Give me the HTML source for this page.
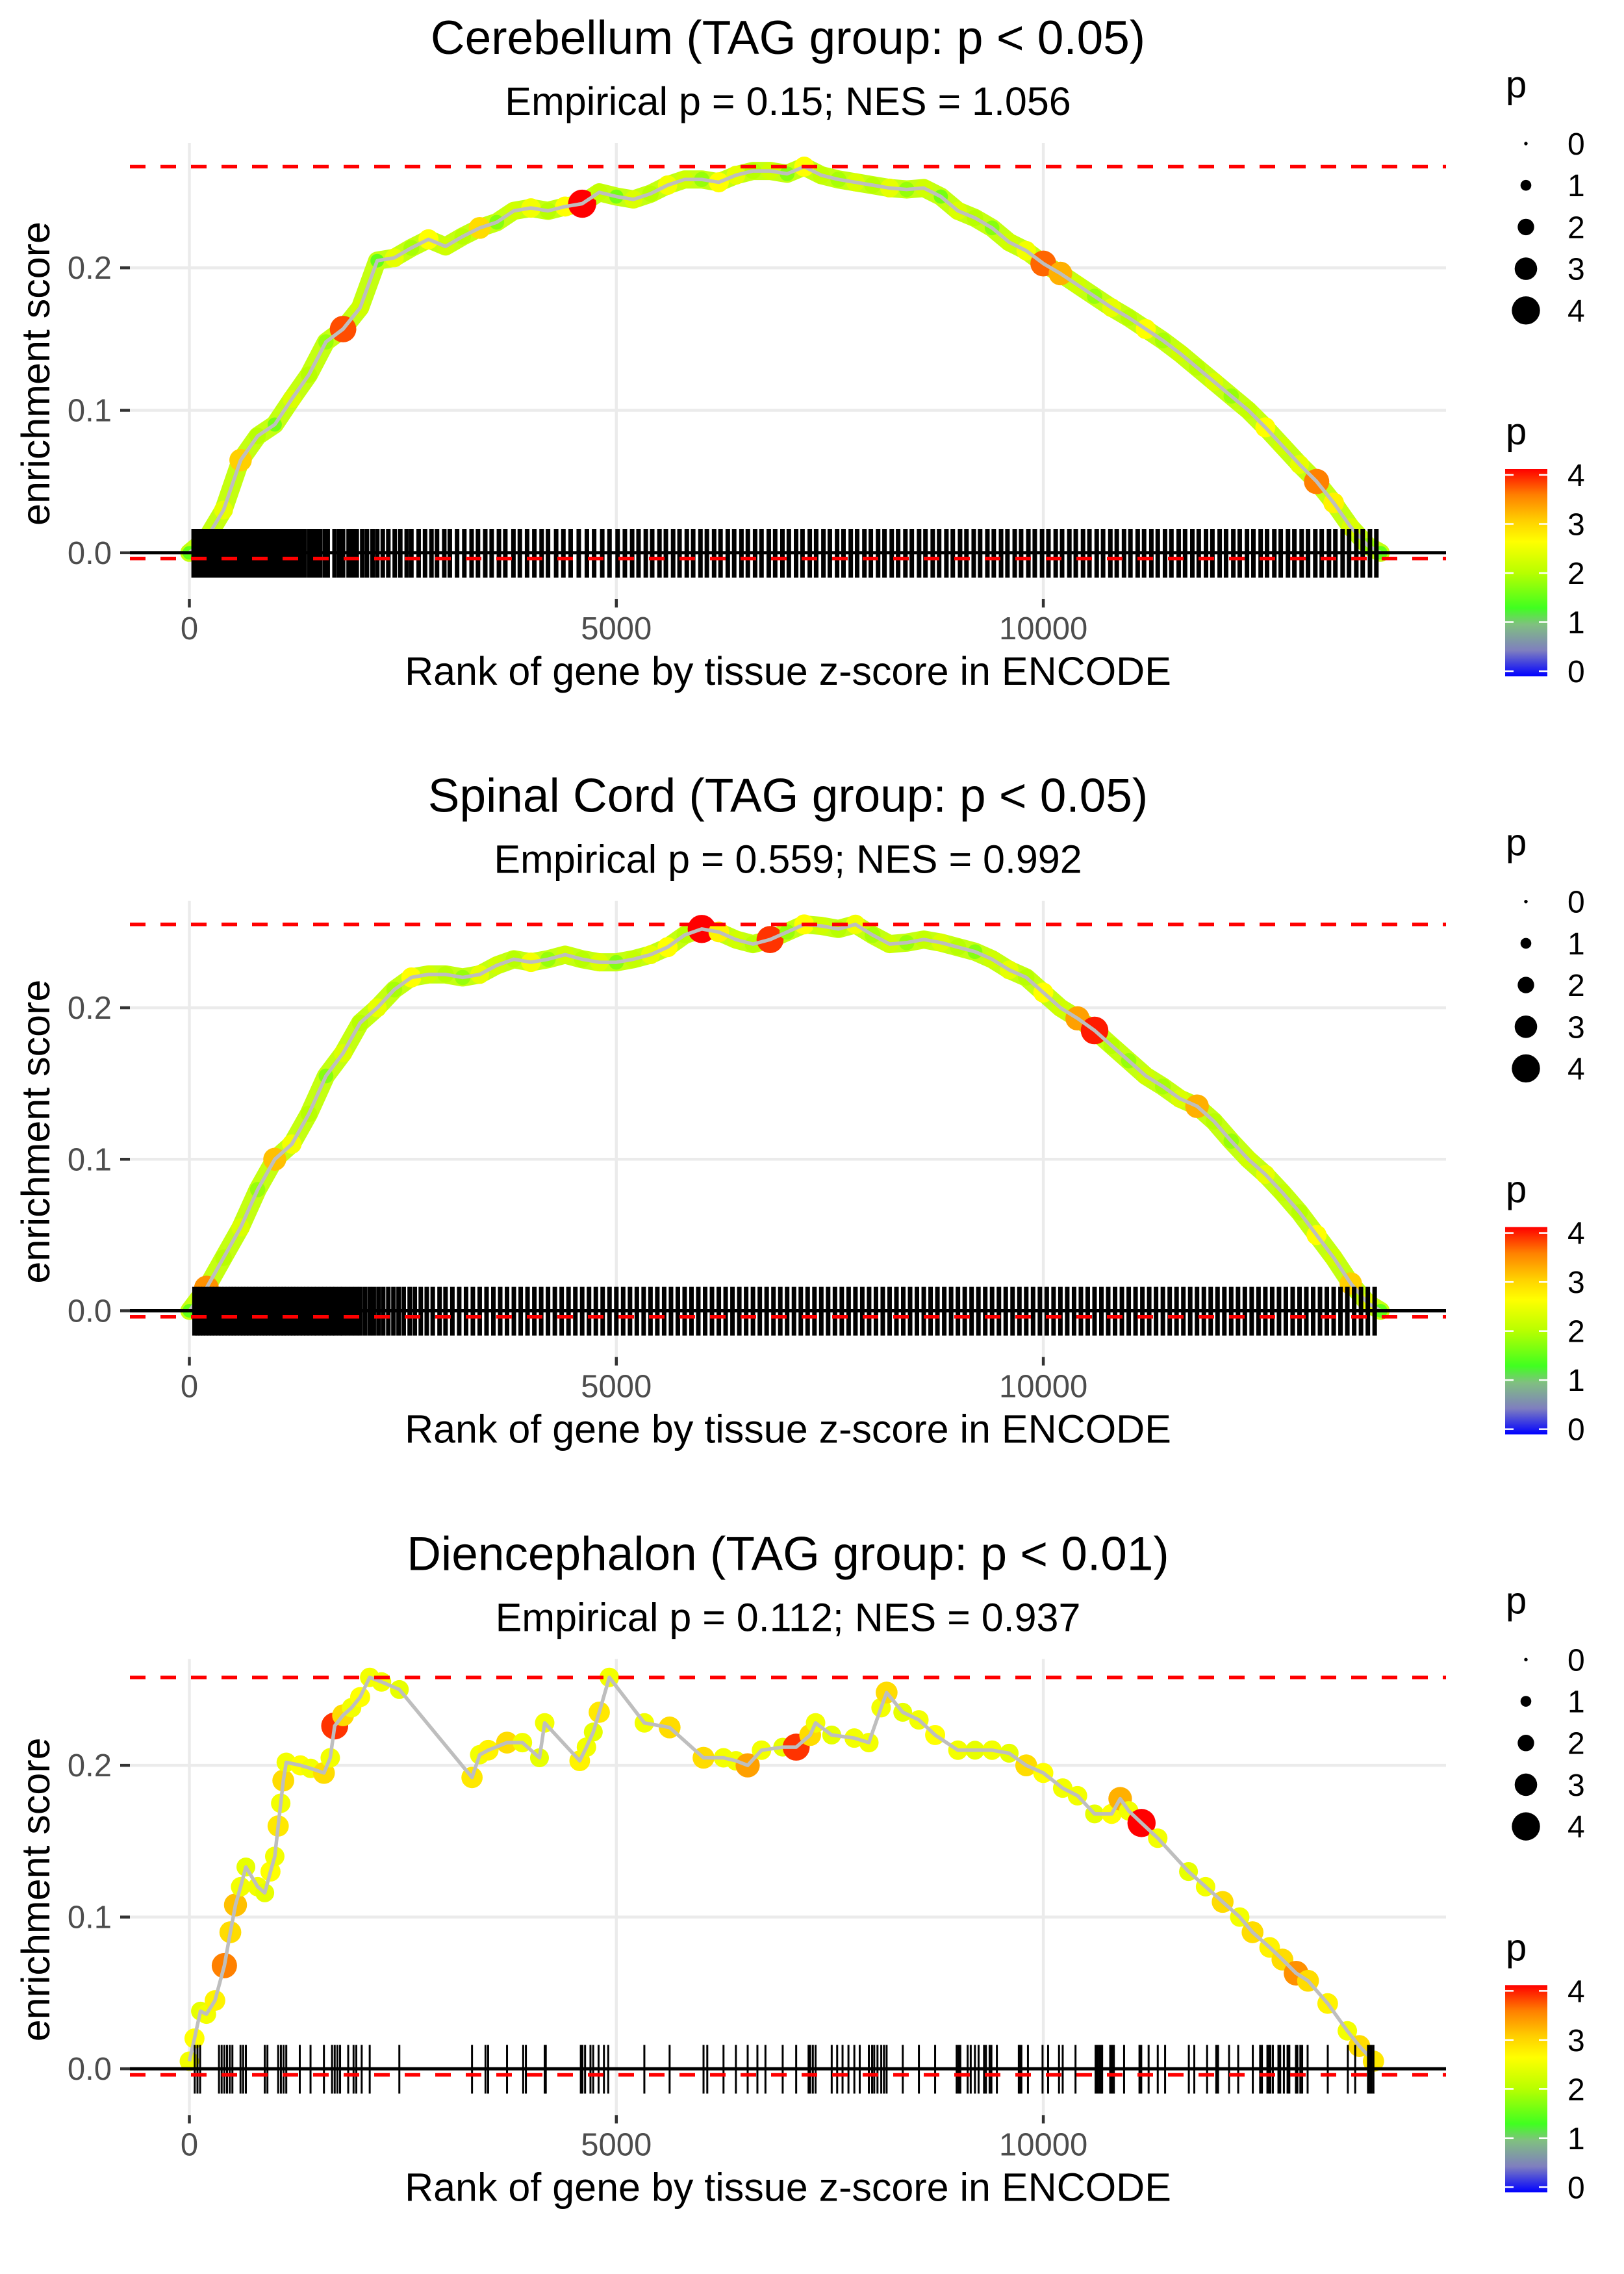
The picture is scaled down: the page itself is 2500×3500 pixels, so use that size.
<!DOCTYPE html>
<html><head><meta charset="utf-8"><style>
html,body{margin:0;padding:0;background:#fff;}
svg{display:block;font-family:"Liberation Sans",Arial,sans-serif;}
</style></head>
<body>
<svg id="fig" xmlns="http://www.w3.org/2000/svg" width="2500" height="3500" viewBox="0 0 2500 3500">
<defs>
<linearGradient id="cbar" x1="0" y1="1" x2="0" y2="0">
<stop offset="0" stop-color="#0000ff"/><stop offset="0.125" stop-color="#7f7fbf"/><stop offset="0.25" stop-color="#80c080"/><stop offset="0.33" stop-color="#40ff20"/><stop offset="0.5" stop-color="#b8ff00"/><stop offset="0.65" stop-color="#ffff00"/><stop offset="0.75" stop-color="#ffd000"/><stop offset="0.875" stop-color="#ff8000"/><stop offset="1" stop-color="#ff0000"/>
</linearGradient>
</defs>
</svg>
<script>
// ---------- data ----------
const titles = ["Cerebellum (TAG group: p < 0.05)", "Spinal Cord (TAG group: p < 0.05)", "Diencephalon (TAG group: p < 0.01)"];
const subtitles = ["Empirical p = 0.15; NES = 1.056", "Empirical p = 0.559; NES = 0.992", "Empirical p = 0.112; NES = 0.937"];
const xTicks = [0, 5000, 10000];
const xTickLabels = ["0", "5000", "10000"];
const yTicks = [0, 0.1, 0.2];
const yTickLabels = ["0.0", "0.1", "0.2"];
const esMin = [-0.004, -0.004, -0.004];
const legendValues = [0, 1, 2, 3, 4];

const ranks1 = [0,200,400,600,800,1000,1200,1400,1600,1800,2000,2200,2400,2600,2800,3000,3200,3400,3600,3800,4000,4200,4400,4600,4800,5000,5200,5400,5600,5800,6000,6200,6400,6600,6800,7000,7200,7400,7600,7800,8000,8200,8400,8600,8800,9000,9200,9400,9600,9800,10000,10200,10400,10600,10800,11000,11200,11400,11600,11800,12000,12200,12400,12600,12800,13000,13200,13400,13600,13800,13950];
const es1 = [0.0,0.01,0.03,0.065,0.082,0.09,0.108,0.125,0.148,0.157,0.172,0.205,0.207,0.214,0.22,0.215,0.222,0.228,0.232,0.24,0.242,0.24,0.243,0.245,0.253,0.25,0.248,0.252,0.258,0.262,0.262,0.26,0.265,0.268,0.268,0.266,0.271,0.265,0.262,0.26,0.258,0.256,0.255,0.256,0.25,0.24,0.235,0.228,0.218,0.212,0.203,0.196,0.188,0.18,0.172,0.165,0.157,0.149,0.14,0.13,0.12,0.11,0.1,0.088,0.075,0.062,0.05,0.035,0.018,0.005,0.0];
const p1 = [1.5,2.2,2.4,3.0,2.0,1.6,2.3,2.0,1.8,3.7,2.2,1.5,2.4,1.9,2.6,2.2,2.0,2.9,1.7,2.2,2.5,2.0,2.6,4.0,2.1,1.6,2.3,2.0,2.5,2.2,1.8,2.6,2.4,2.0,2.2,1.7,2.6,2.1,1.9,2.3,2.0,2.4,1.8,2.2,1.6,2.3,2.0,1.7,2.2,2.5,3.6,3.2,2.2,1.8,2.4,2.0,2.6,1.9,2.2,2.0,2.3,1.8,2.1,2.6,2.2,2.4,3.5,2.7,2.3,1.8,1.5];
const rug1 = [50,85,120,165,200,235,270,300,345,380,410,455,490,525,560,600,645,670,715,750,795,830,860,905,940,985,1020,1065,1100,1145,1180,1225,1260,1300,1350,1405,1440,1485,1530,1585,1620,1700,1755,1800,1865,1910,1960,2025,2080,2145,2200,2265,2330,2405,2470,2545,2600,2685,2760,2835,2900,2985,3050,3135,3220,3305,3380,3465,3540,3625,3700,3795,3870,3955,4040,4125,4200,4295,4380,4465,4560,4655,4740,4835,4920,5015,5100,5185,5260,5345,5420,5505,5580,5665,5740,5825,5900,5985,6060,6145,6220,6305,6380,6465,6540,6625,6700,6785,6860,6945,7020,7105,7180,7265,7340,7425,7500,7585,7660,7745,7820,7905,7980,8065,8140,8225,8300,8385,8460,8545,8620,8705,8780,8865,8940,9025,9100,9185,9260,9345,9420,9505,9580,9665,9740,9825,9900,9985,10060,10145,10220,10305,10380,10465,10540,10625,10700,10785,10860,10945,11020,11105,11180,11265,11340,11425,11500,11585,11660,11745,11820,11905,11980,12065,12140,12225,12300,12385,12460,12545,12620,12705,12780,12865,12940,13025,13100,13185,13260,13345,13420,13505,13580,13665,13740,13825,13900];

const ranks2 = [0,200,400,600,800,1000,1200,1400,1600,1800,2000,2200,2400,2600,2800,3000,3200,3400,3600,3800,4000,4200,4400,4600,4800,5000,5200,5400,5600,5800,6000,6200,6400,6600,6800,7000,7200,7400,7600,7800,8000,8200,8400,8600,8800,9000,9200,9400,9600,9800,10000,10200,10400,10600,10800,11000,11200,11400,11600,11800,12000,12200,12400,12600,12800,13000,13200,13400,13600,13800,13950];
const es2 = [0.0,0.015,0.035,0.055,0.08,0.1,0.11,0.13,0.155,0.17,0.19,0.2,0.212,0.22,0.222,0.222,0.22,0.222,0.228,0.232,0.23,0.232,0.235,0.232,0.23,0.23,0.232,0.235,0.24,0.248,0.252,0.25,0.245,0.242,0.245,0.25,0.255,0.254,0.252,0.255,0.248,0.242,0.243,0.245,0.243,0.24,0.237,0.232,0.225,0.22,0.21,0.2,0.193,0.185,0.175,0.165,0.155,0.148,0.14,0.135,0.125,0.112,0.1,0.09,0.078,0.065,0.05,0.035,0.018,0.005,0.0];
const p2 = [1.5,3.4,2.0,2.3,1.8,3.1,2.5,2.0,1.7,2.3,2.0,2.4,1.9,2.6,2.2,2.0,1.8,2.4,2.2,2.0,2.5,1.8,2.2,2.0,2.3,1.7,2.1,2.4,2.6,2.0,4.0,2.7,2.2,2.0,3.8,1.8,2.6,2.2,2.0,2.5,1.9,2.2,1.8,2.1,2.3,2.0,1.7,2.2,2.4,2.0,2.6,2.2,3.3,3.9,2.0,1.8,2.2,1.9,2.3,3.2,2.0,1.8,2.2,2.4,2.1,2.0,2.6,2.2,3.0,2.4,1.5];
const rug2 = [60,95,125,160,195,230,265,300,340,375,410,450,485,520,555,595,630,665,700,740,775,810,850,885,920,960,995,1030,1070,1105,1140,1180,1215,1250,1290,1330,1370,1410,1455,1495,1540,1580,1625,1670,1710,1760,1800,1850,1900,1950,2000,2055,2110,2160,2215,2270,2330,2390,2450,2510,2580,2640,2710,2780,2850,2930,3000,3080,3160,3240,3320,3400,3480,3560,3640,3720,3800,3880,3960,4040,4120,4200,4280,4360,4440,4520,4600,4680,4760,4840,4920,5000,5080,5160,5240,5320,5400,5480,5560,5640,5720,5800,5880,5960,6040,6120,6200,6280,6360,6440,6520,6600,6680,6760,6840,6920,7000,7080,7160,7240,7320,7400,7480,7560,7640,7720,7800,7880,7960,8040,8120,8200,8280,8360,8440,8520,8600,8680,8760,8840,8920,9000,9080,9160,9240,9320,9400,9480,9560,9640,9720,9800,9880,9960,10040,10120,10200,10280,10360,10440,10520,10600,10680,10760,10840,10920,11000,11080,11160,11240,11320,11400,11480,11560,11640,11720,11800,11880,11960,12040,12120,12200,12280,12360,12440,12520,12600,12680,12760,12840,12920,13000,13080,13160,13240,13320,13400,13480,13560,13640,13720,13800,13880];

const ranks3 = [0,60,130,200,300,410,480,540,600,662,800,883,950,1000,1040,1070,1100,1135,1300,1420,1576,1650,1702,1800,1900,2000,2112,2250,2459,3310,3400,3500,3720,3900,4100,4161,4571,4650,4730,4800,4918,5328,5624,6021,6255,6400,6538,6700,6948,7106,7270,7333,7522,7786,7957,8100,8165,8354,8543,8733,9000,9200,9400,9600,9800,10000,10227,10400,10600,10800,10900,11000,11150,11340,11700,11900,12100,12300,12450,12650,12800,12960,13100,13330,13560,13700,13866];
const es3 = [0.005,0.02,0.038,0.036,0.045,0.068,0.09,0.108,0.12,0.133,0.12,0.116,0.13,0.14,0.16,0.175,0.19,0.202,0.2,0.198,0.195,0.205,0.226,0.233,0.238,0.245,0.258,0.255,0.25,0.192,0.207,0.21,0.215,0.215,0.205,0.228,0.203,0.212,0.222,0.235,0.258,0.228,0.225,0.205,0.205,0.203,0.2,0.21,0.212,0.212,0.22,0.228,0.22,0.218,0.215,0.238,0.248,0.235,0.23,0.22,0.21,0.21,0.21,0.208,0.2,0.195,0.185,0.18,0.168,0.168,0.178,0.17,0.162,0.152,0.13,0.12,0.11,0.1,0.09,0.08,0.072,0.063,0.058,0.043,0.025,0.015,0.005];
const p3 = [2.5,2.6,2.4,2.5,2.7,3.5,2.9,3.1,2.5,2.4,2.5,2.4,2.6,2.5,2.8,2.5,2.9,2.5,2.6,2.5,2.9,2.5,3.8,2.9,2.5,2.6,2.5,2.5,2.4,2.8,2.5,2.7,2.9,2.5,2.4,2.5,2.7,2.5,2.4,2.8,2.5,2.5,2.9,2.9,2.5,2.5,3.3,2.5,2.4,3.8,2.9,2.5,2.4,2.5,2.5,2.5,2.9,2.4,2.5,2.6,2.5,2.4,2.5,2.4,2.9,2.6,2.5,2.5,2.4,2.6,3.2,2.5,4.0,2.5,2.4,2.5,2.9,2.5,2.9,2.7,2.9,3.4,2.9,2.7,2.5,2.9,2.8];
const rug3 = [63,95,126,347,378,410,441,473,504,599,630,662,883,914,1040,1072,1103,1135,1293,1419,1576,1671,1702,1734,1765,1860,1923,1955,2018,2112,2459,3310,3468,3499,3720,3909,3941,4161,4174,4584,4603,4634,4697,4729,4792,4855,4905,5328,5624,6021,6065,6255,6400,6538,6652,6746,6948,7106,7251,7270,7301,7333,7522,7586,7649,7718,7787,7850,7957,7995,8020,8058,8102,8134,8165,8354,8543,8733,8985,9007,9028,9114,9150,9199,9242,9306,9328,9371,9392,9456,9713,9726,9743,9820,9991,10056,10184,10227,10377,10612,10634,10655,10676,10689,10783,10805,10826,10946,11126,11147,11233,11340,11426,11704,11768,11918,12025,12046,12175,12282,12453,12539,12560,12624,12646,12659,12688,12753,12774,12817,12860,12881,12958,12975,13010,13031,13095,13331,13566,13652,13802,13823,13844,13866];

// ---------- scales ----------
const PANEL_H = 3500/3;
const X0 = 291.5, XK = 0.13146;
const yZeroLocal = 850.8;
const yK = [2193, 2332, 2335];
const xScale = r => X0 + r*XK;
const yScaleFor = (i) => (v => i*PANEL_H + yZeroLocal - v*yK[i]);
const colStops = [[0,[0,0,255]],[0.5,[127,127,191]],[1,[128,192,128]],[1.3,[64,255,32]],[2,[184,255,0]],[2.6,[255,255,0]],[3,[255,208,0]],[3.5,[255,128,0]],[4,[255,0,0]]];
function colorOf(p){
  for(let i=1;i<colStops.length;i++){
    if(p<=colStops[i][0]){
      const a=colStops[i-1], b=colStops[i], t=(p-a[0])/(b[0]-a[0]);
      const c=a[1].map((v,j)=>Math.round(v+(b[1][j]-v)*t));
      return `rgb(${c[0]},${c[1]},${c[2]})`;
    }
  }
  return 'rgb(255,0,0)';
}
const sizeStops = [2.7, 8.3, 12.7, 17.3, 21.7];
function radiusOf(p){
  const f=Math.max(0,Math.min(4,p)), i=Math.min(3,Math.floor(f)), t=f-i;
  return sizeStops[i]+(sizeStops[i+1]-sizeStops[i])*t;
}

const svg = document.getElementById('fig');
const NS = 'http://www.w3.org/2000/svg';
function mk(tag, attrs, parent){
  const e=document.createElementNS(NS,tag);
  for(const k in attrs) e.setAttribute(k, attrs[k]);
  (parent||svg).appendChild(e);
  return e;
}
function txt(str, attrs, parent){
  const e=mk('text', attrs, parent);
  e.textContent=str;
  return e;
}

const allRanks=[ranks1,ranks2,ranks3], allEs=[es1,es2,es3], allP=[p1,p2,p3], allRug=[rug1,rug2,rug3];

for(let i=0;i<3;i++){
  const oy=i*PANEL_H;
  const Y=yScaleFor(i);
  const g=mk('g',{});
  
  

  const t=txt(titles[i],{x:1213,y:oy+83,'font-size':73,'text-anchor':'middle',fill:'#000'},g);
  
  
  const st=txt(subtitles[i],{x:1213,y:oy+177,'font-size':61,'text-anchor':'middle',fill:'#000'},g);
  
  

  // grid
  yTicks.forEach((v,k)=>{
    const gl=mk('line',{x1:200,x2:2226,y1:Y(v),y2:Y(v),stroke:'#ebebeb','stroke-width':4.5},g);
    
    
    const tm=mk('line',{x1:185,x2:200,y1:Y(v),y2:Y(v),stroke:'#333','stroke-width':4.5},g);
    
    
    const tl=txt(yTickLabels[k],{x:172,y:Y(v)+17,'font-size':49,'text-anchor':'end',fill:'#4d4d4d'},g);
    
    
  });
  xTicks.forEach((v,k)=>{
    const gl=mk('line',{x1:xScale(v),x2:xScale(v),y1:oy+220,y2:oy+922,stroke:'#ebebeb','stroke-width':4.5},g);
    
    
    const tm=mk('line',{x1:xScale(v),x2:xScale(v),y1:oy+922,y2:oy+935,stroke:'#333','stroke-width':4.5},g);
    
    
    const tl=txt(xTickLabels[k],{x:xScale(v),y:oy+984,'font-size':49,'text-anchor':'middle',fill:'#4d4d4d'},g);
    
    
  });

  const r=allRanks[i], e=allEs[i], p=allP[i];
  const pts=r.map((rk,k)=>xScale(rk).toFixed(1)+','+Y(e[k]).toFixed(1)).join(' ');
  if(i<2){
    const band=mk('polyline',{points:pts,fill:'none',stroke:'#c4ff10','stroke-width':28,'stroke-linejoin':'round','stroke-linecap':'round'},g);
    
    
  }
  r.forEach((rk,k)=>{
    const c=mk('circle',{cx:xScale(rk),cy:Y(e[k]),r:radiusOf(p[k]),fill:colorOf(p[k])},g);
    
    
  });
  const line=mk('polyline',{points:pts,fill:'none',stroke:'#bebebe','stroke-width':5.5,'stroke-linejoin':'round'},g);
  
  

  allRug[i].forEach(rk=>{
    const l=mk('line',{x1:xScale(rk),x2:xScale(rk),y1:oy+814,y2:oy+889,stroke:'#000','stroke-width':i<2?7:3},g);
    
    
  });

  const z=mk('line',{x1:200,x2:2226,y1:Y(0),y2:Y(0),stroke:'#000','stroke-width':5},g);
  
  
  const esMax=Math.max(...e);
  const dt=mk('line',{x1:200,x2:2226,y1:Y(esMax),y2:Y(esMax),stroke:'#ff0000','stroke-width':5.5,'stroke-dasharray':'24 23'},g);
  
  
  const db=mk('line',{x1:200,x2:2226,y1:Y(esMin[i]),y2:Y(esMin[i]),stroke:'#ff0000','stroke-width':5.5,'stroke-dasharray':'24 23'},g);
  
  

  const xt=txt('Rank of gene by tissue z-score in ENCODE',{x:1213,y:oy+1054,'font-size':61,'text-anchor':'middle',fill:'#000'},g);
  
  
  const yt=txt('enrichment score',{x:0,y:0,'font-size':61,'text-anchor':'middle',fill:'#000',transform:`translate(76,${oy+575}) rotate(-90)`},g);
  
  

  // size legend
  const lt=txt('p',{x:2318,y:oy+150,'font-size':58,fill:'#000'},g);
  
  
  legendValues.forEach((v,k)=>{
    const cy=oy+221+k*64.2;
    const c=mk('circle',{cx:2349,cy:cy,r:radiusOf(v),fill:'#000'},g);
    
    
    const l=txt(String(v),{x:2413,y:cy+17,'font-size':48,fill:'#000'},g);
    
    
  });
  // color legend
  const ct=txt('p',{x:2318,y:oy+684,'font-size':58,fill:'#000'},g);
  
  
  const bar=mk('rect',{x:2317,y:oy+722,width:65,height:319,fill:'url(#cbar)'},g);
  
  
  legendValues.forEach(v=>{
    const cy=oy+1033-v*75.5;
    const t1=mk('line',{x1:2317,x2:2330,y1:cy,y2:cy,stroke:'#fff','stroke-width':2.5},g);
    
    
    const t2=mk('line',{x1:2369,x2:2382,y1:cy,y2:cy,stroke:'#fff','stroke-width':2.5},g);
    
    
    const l=txt(String(v),{x:2413,y:cy+17,'font-size':48,fill:'#000'},g);
    
    
  });
}
</script>
</body></html>
